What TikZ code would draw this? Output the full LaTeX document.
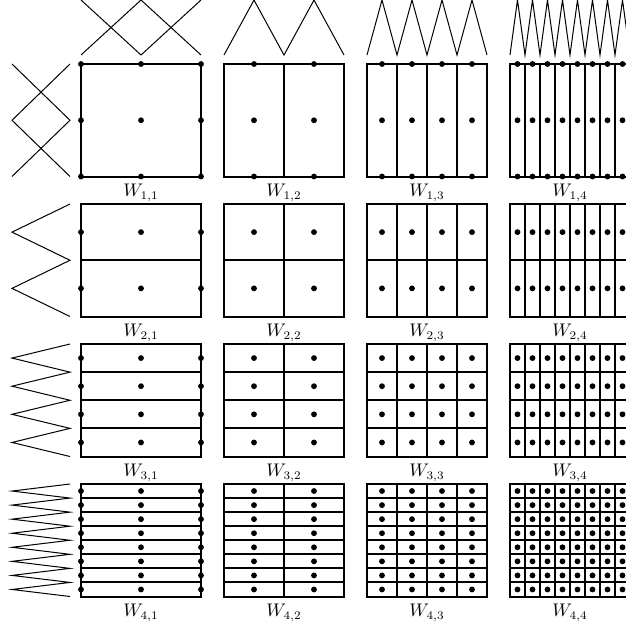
\documentclass[tikz,border=0pt]{standalone}
\usepackage{tikz}
\begin{document}
\begin{tikzpicture}[x=0.6pt,y=-0.6pt,
  gridline/.style={line width=1.2pt},
  wave/.style={line width=0.6pt},
  dotmark/.style={fill=black},
  lab/.style={anchor=north,inner sep=0pt,font=\fontsize{10.5}{12}\selectfont}]
\useasboundingbox (0,0) rectangle (626,628);
% grids, dots, labels
\foreach \i in {1,...,4}{
 \foreach \j in {1,...,4}{
  \pgfmathsetmacro\L{81+143*(\j-1)}
  \pgfmathsetmacro\T{64+140*(\i-1)}
  \pgfmathsetmacro\R{\L+120}
  \pgfmathsetmacro\B{\T+112.5}
  \pgfmathtruncatemacro\nc{2^(\j-1)}
  \pgfmathtruncatemacro\nr{2^(\i-1)}
  \pgfmathsetmacro\cw{120/\nc}
  \pgfmathsetmacro\rh{112.5/\nr}
  \draw[gridline] (\L,\T) rectangle (\R,\B);
  \foreach \k in {1,...,\nc}{\ifnum\k<\nc \draw[gridline] ({\L+\k*\cw},\T) -- ({\L+\k*\cw},\B);\fi}
  \foreach \k in {1,...,\nr}{\ifnum\k<\nr \draw[gridline] (\L,{\T+\k*\rh}) -- (\R,{\T+\k*\rh});\fi}
  \ifnum\nc=1 \def\xa{0}\def\xb{2}\def\xst{60}\def\xo{0}\else \def\xa{1}\edef\xb{\nc}\edef\xst{\cw}\edef\xo{-\cw/2}\fi
  \ifnum\nr=1 \def\ya{0}\def\yb{2}\def\yst{56.25}\def\yo{0}\else \def\ya{1}\edef\yb{\nr}\edef\yst{\rh}\edef\yo{-\rh/2}\fi
  \foreach \p in {\xa,...,\xb}{
   \foreach \q in {\ya,...,\yb}{
    \fill[dotmark] ({\L+\xo+\p*\xst},{\T+\yo+\q*\yst}) circle[radius=1.75pt];
   }
  }
  \node[lab] (lab-\i-\j) at ({\L+60},{\B+7}) {$W_{\i,\j}$};
 }
}
% top waves
\draw[wave] (81,55) -- (141,0) -- (201,55);
\draw[wave] (81,0) -- (141,55) -- (201,0);
\foreach \j in {2,3,4}{
  \pgfmathsetmacro\L{81+143*(\j-1)}
  \pgfmathtruncatemacro\nc{2^(\j-1)}
  \pgfmathsetmacro\cw{120/\nc}
  \draw[wave] (\L,55) \foreach \k in {1,...,\nc}{ -- ({\L+(\k-0.5)*\cw},0) -- ({\L+\k*\cw},55) };
}
% left waves
\draw[wave] (12,64) -- (70,120.25) -- (12,176.5);
\draw[wave] (70,64) -- (12,120.25) -- (70,176.5);
\foreach \i in {2,3,4}{
  \pgfmathsetmacro\T{64+140*(\i-1)}
  \pgfmathtruncatemacro\nr{2^(\i-1)}
  \pgfmathsetmacro\rh{112.5/\nr}
  \draw[wave] (70,\T) \foreach \k in {1,...,\nr}{ -- (12,{\T+(\k-0.5)*\rh}) -- (70,{\T+\k*\rh}) };
}
\end{tikzpicture}
\end{document}
